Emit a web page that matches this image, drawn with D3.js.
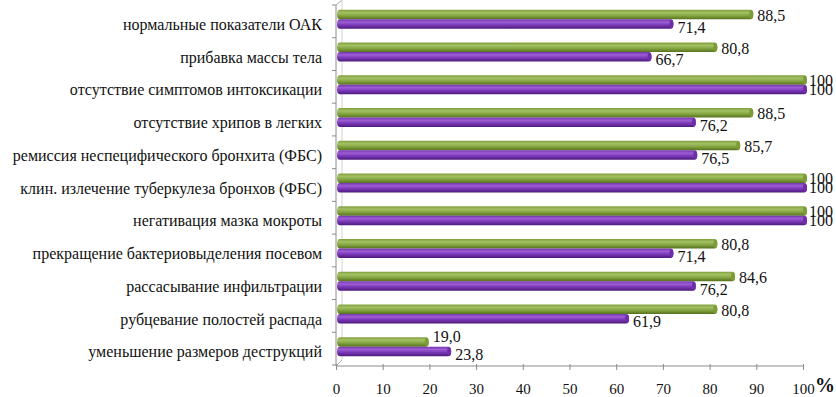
<!DOCTYPE html>
<html>
<head>
<meta charset="utf-8">
<script src="https://cdn.jsdelivr.net/npm/d3@7"></script>
<style>
  body { margin: 0; background: #fff; }
</style>
</head>
<body>
<div id="container"></div>
<script>
const WIDTH = 836;
const HEIGHT = 397;
const DEPTH = 6;
const BAR_SHIFT = 3;
const FONT = "serif";

var CATEGORIES = [
    "нормальные показатели ОАК",
    "прибавка массы тела",
    "отсутствие симптомов интоксикации",
    "отсутствие хрипов в легких",
    "ремиссия неспецифического бронхита (ФБС)",
    "клин. излечение туберкулеза бронхов (ФБС)",
    "негативация мазка мокроты",
    "прекращение бактериовыделения посевом",
    "рассасывание инфильтрации",
    "рубцевание полостей распада",
    "уменьшение размеров деструкций"
];
var GREEN_VALUES = [88.5, 80.8, 100, 88.5, 85.7, 100, 100, 80.8, 84.6, 80.8, 19.0];
var PURPLE_VALUES = [71.4, 66.7, 100, 76.2, 76.5, 100, 100, 71.4, 76.2, 61.9, 23.8];
var X_TICKS = [0, 10, 20, 30, 40, 50, 60, 70, 80, 90, 100];
var SERIES = ["green", "purple"];

var XScale = d3.scaleLinear()
    .domain([0, 100])
    .range([336, 803]);

var YScale = d3.scaleBand()
    .domain(CATEGORIES)
    .range([5, 365])
    .paddingInner(0.42)
    .paddingOuter(0.21);

var SubScale = d3.scaleBand()
    .domain(SERIES)
    .range([0, YScale.bandwidth()]);

var fmt = function (v) {
    return v === 100 ? "100" : v.toFixed(1).replace(".", ",");
};

var translate = function (x, y) {
    return "translate(" + x + "," + y + ")";
};

var addGradient = function (defs, id, stops) {
    var g = defs.append("linearGradient")
        .attr("id", id)
        .attr("x1", 0).attr("y1", 0).attr("x2", 0).attr("y2", 1);
    stops.forEach(function (s) {
        g.append("stop").attr("offset", s[0]).attr("stop-color", s[1]);
    });
};

var drawAxes = function (svg) {
    var grey = "#8c8c8c";
    var x0 = XScale(0);
    var top = 5;
    var bottom = 366;

    // back wall edge and floor edge (3D look)
    svg.append("path")
        .attr("d", "M" + x0 + "," + top + "L" + (x0 + DEPTH) + "," + (top - DEPTH + 1) +
            "M" + x0 + "," + bottom + "L" + (x0 + DEPTH) + "," + (bottom - DEPTH))
        .attr("stroke", "#a8a8a8").attr("fill", "none");
    svg.append("line")
        .attr("x1", x0 + DEPTH).attr("x2", x0 + DEPTH)
        .attr("y1", top - DEPTH + 1).attr("y2", bottom - DEPTH)
        .attr("stroke", "#d4d4d4");

    var yAxis = d3.axisLeft(YScale).tickSize(0).tickFormat(function () { return ""; });
    svg.append("g").attr("transform", translate(x0, 0)).call(yAxis)
        .call(function (g) { g.select(".domain").attr("stroke", grey).attr("d", "M0," + top + "V" + bottom); });

    // category boundary ticks
    var bounds = CATEGORIES.map(function (c) { return YScale(c) - YScale.step() * YScale.paddingInner() / 2; });
    bounds.push(365);
    svg.append("g").selectAll("line").data(bounds).enter().append("line")
        .attr("x1", x0 - 4).attr("x2", x0)
        .attr("y1", function (d) { return d; }).attr("y2", function (d) { return d; })
        .attr("stroke", grey);

    svg.append("g").selectAll("text").data(CATEGORIES).enter().append("text")
        .attr("x", 322)
        .attr("y", function (d) { return YScale(d) + YScale.bandwidth() / 2 + 3; })
        .attr("dy", "0.35em")
        .attr("text-anchor", "end")
        .attr("font-family", FONT)
        .attr("font-size", 16)
        .attr("fill", "#111")
        .text(function (d) { return d; });

    var xAxis = d3.axisBottom(XScale).tickValues(X_TICKS).tickSize(5)
        .tickFormat(function (d) { return d; });
    var gx = svg.append("g").attr("transform", translate(0, bottom)).call(xAxis)
        .attr("font-family", FONT).attr("font-size", 15);
    gx.select(".domain").attr("stroke", grey).attr("d", "M" + x0 + ",0H" + XScale(100));
    gx.selectAll(".tick line").attr("stroke", grey).attr("y1", -2).attr("y2", 4);
    gx.selectAll(".tick text")
        .attr("y", 28)
        .attr("dy", null)
        .attr("font-family", FONT)
        .attr("fill", "#111");
    svg.append("text")
        .attr("x", XScale(100) + 12).attr("y", 392)
        .attr("font-family", FONT)
        .attr("font-size", 20).attr("font-weight", "bold")
        .attr("fill", "#111")
        .text("%");
};

var drawBars = function (svg) {
    var rows = CATEGORIES.map(function (c, i) {
        return {cat: c, green: GREEN_VALUES[i], purple: PURPLE_VALUES[i]};
    });
    var fills = {green: "url(#gGreen)", purple: "url(#gPurple)"};
    var caps = {green: "#7c9c38", purple: "#6d2ea8"};
    var h = SubScale.bandwidth();
    var lift = 2;
    var centre = function (d, s) { return YScale(d.cat) + SubScale(s) - lift + h / 2; };

    // label offset from bar centre; a short green bar gets its label lifted clear of the longer purple bar
    var labelDy = function (d, s) {
        if (d[s] === 100) return 0;
        if (s === "green") return d.green < d.purple ? -5 : 1;
        return 3;
    };

    SERIES.forEach(function (s) {
        var g = svg.append("g");
        g.selectAll("rect").data(rows).enter().append("rect")
            .attr("x", XScale(0) + 1)
            .attr("y", function (d) { return centre(d, s) - h / 2; })
            .attr("width", function (d) { return XScale(d[s]) - XScale(0) + BAR_SHIFT; })
            .attr("height", h)
            .attr("rx", 3).attr("ry", h / 2)
            .attr("fill", fills[s]);
        g.selectAll("ellipse").data(rows).enter().append("ellipse")
            .attr("cx", function (d) { return XScale(d[s]) + BAR_SHIFT - 1; })
            .attr("cy", function (d) { return centre(d, s); })
            .attr("rx", 2).attr("ry", h / 2 - 0.5)
            .attr("fill", caps[s]);
        g.selectAll("text").data(rows).enter().append("text")
            .attr("x", function (d) { return XScale(d[s]) + BAR_SHIFT + (d[s] === 100 ? 3 : 5); })
            .attr("y", function (d) { return centre(d, s) + labelDy(d, s); })
            .attr("dy", "0.35em")
            .attr("font-family", FONT)
            .attr("font-size", 16)
            .attr("fill", "#111")
            .text(function (d) { return fmt(d[s]); });
    });
};

var generateChart = function () {
    var svg = d3.select("#container").append("svg")
        .attr("width", WIDTH)
        .attr("height", HEIGHT)
        .attr("font-family", FONT);
    var defs = svg.append("defs");
    addGradient(defs, "gGreen", [["0%", "#7f9e3a"], ["30%", "#a3c164"], ["60%", "#86a642"], ["100%", "#56721e"]]);
    addGradient(defs, "gPurple", [["0%", "#7434ad"], ["30%", "#9d5dd4"], ["60%", "#7b38b8"], ["100%", "#4c1a7c"]]);
    drawAxes(svg);
    drawBars(svg);
};

generateChart();
</script>
</body>
</html>
